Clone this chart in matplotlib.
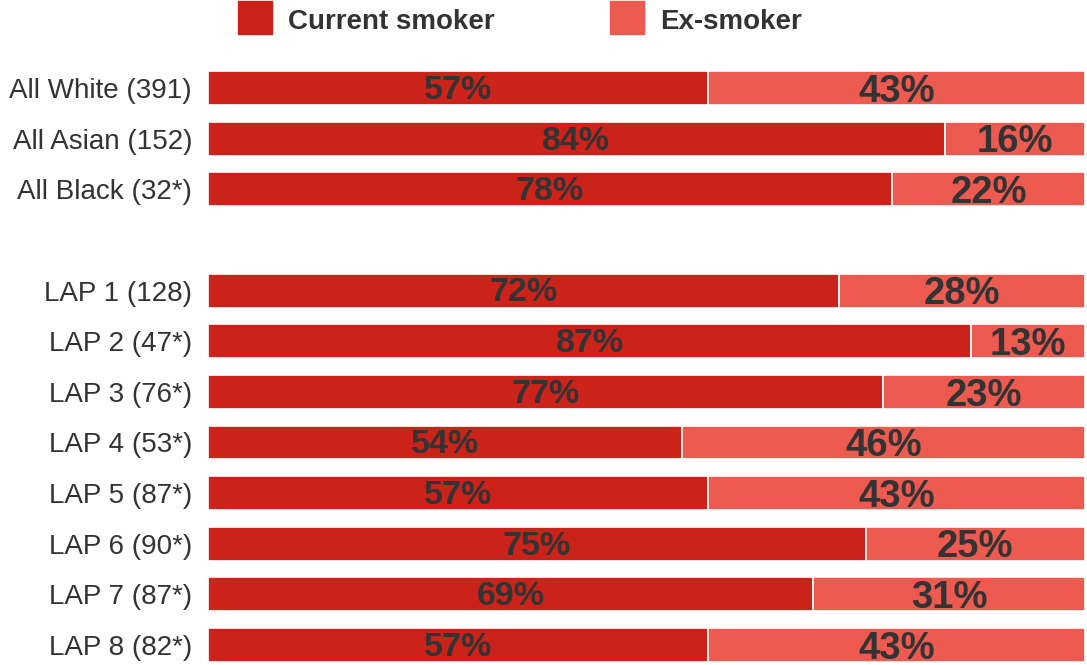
import matplotlib.pyplot as plt
from matplotlib.patches import Rectangle

# smoking status by group, percent of respondents
groups = ["All White (391)", "All Asian (152)", "All Black (32*)",
          "LAP 1 (128)", "LAP 2 (47*)", "LAP 3 (76*)", "LAP 4 (53*)",
          "LAP 5 (87*)", "LAP 6 (90*)", "LAP 7 (87*)", "LAP 8 (82*)"]
current = [57, 84, 78, 72, 87, 77, 54, 57, 75, 69, 57]
ex_smoker = [43, 16, 22, 28, 13, 23, 46, 43, 25, 31, 43]
series = ["Current smoker", "Ex-smoker"]

# leave an empty row between the ethnic groups and the LAP areas
rows = [0, 1, 2, 4, 5, 6, 7, 8, 9, 10, 11]

c_cur = "#CB2219"
c_ex = "#EC5A50"
txt = "#333333"

plt.rcParams['font.family'] = ['Liberation Sans', 'DejaVu Sans']

W, H = 1087, 665
fig = plt.figure(figsize=(W / 100, H / 100), dpi=100)
ax = fig.add_axes([208 / W, 0, 877 / W, 1])

h = 0.67
ax.barh(rows, current, height=h, color=c_cur, edgecolor="white", linewidth=1.2)
ax.barh(rows, ex_smoker, left=current, height=h, color=c_ex,
        edgecolor="white", linewidth=1.2)

for r, a, b in zip(rows, current, ex_smoker):
    ax.text(a / 2, r + 0.215, f"{a}%", ha="center", va="baseline", fontsize=24.5,
            fontweight="bold", color=txt)
    ax.text(a + b / 2, r + 0.27, f"{b}%", ha="center", va="baseline", fontsize=27.5,
            fontweight="bold", color=txt)

ax.set_xlim(0, 100)
ax.set_ylim(577 / 50.64, -88 / 50.64)
ax.set_yticks(rows)
ax.set_yticklabels(groups, fontsize=20, color=txt)
ax.tick_params(axis="y", length=0, pad=11.5)
ax.set_xticks([])
for s in ax.spines.values():
    s.set_visible(False)

# legend across the top
for x0, col, name in zip([238, 610], [c_cur, c_ex], series):
    fig.add_artist(Rectangle((x0 / W, 1 - 34 / H), 34 / W, 33 / H,
                             transform=fig.transFigure, color=col))
    fig.text((x0 + 50) / W, 1 - 22 / H, name, ha="left", va="center",
             fontsize=20, fontweight="bold", color=txt)

fig.savefig("out.png", dpi=100)
